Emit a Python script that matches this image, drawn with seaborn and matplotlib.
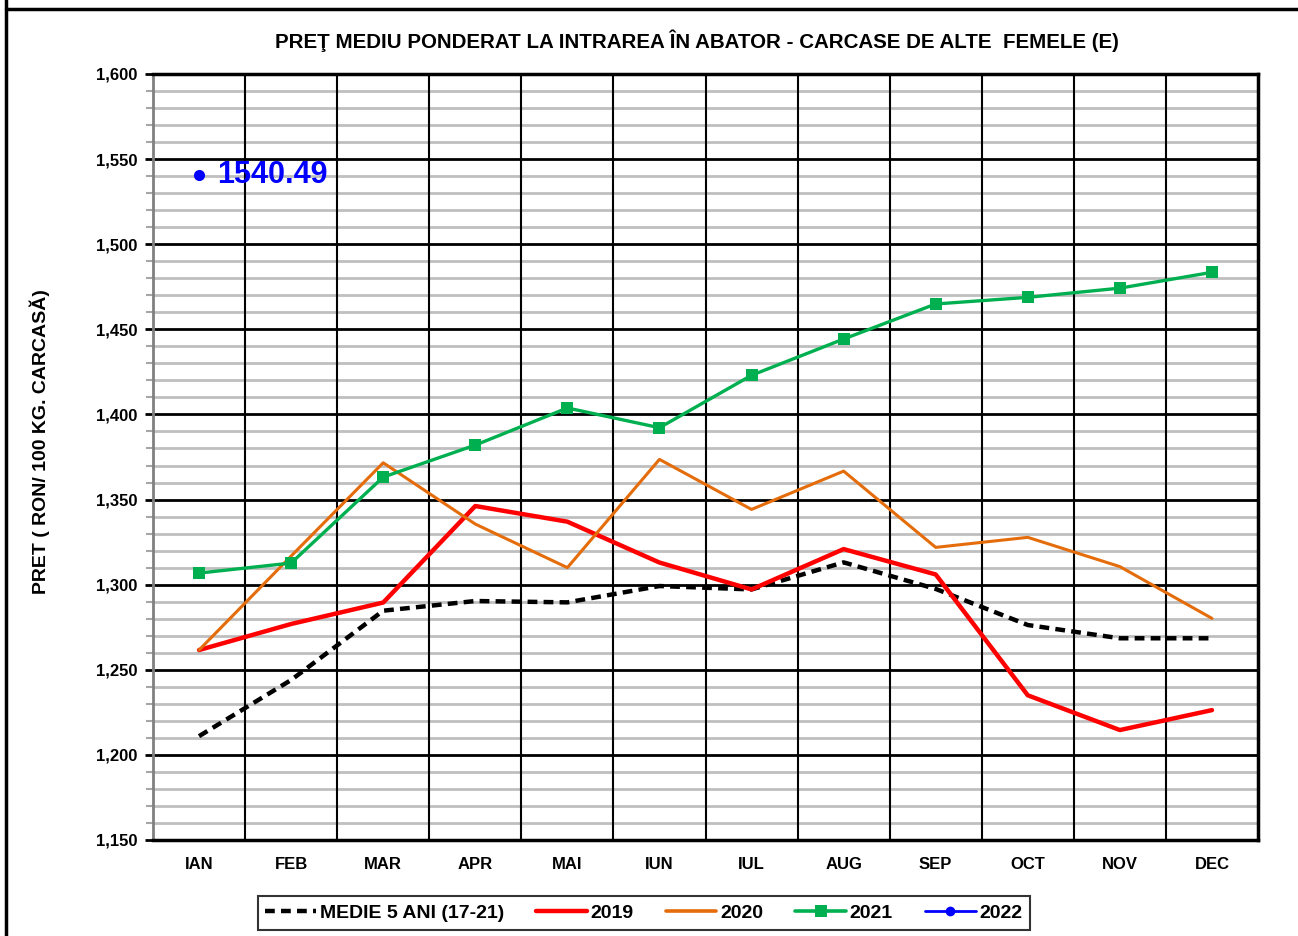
import matplotlib
matplotlib.use("Agg")
import matplotlib.pyplot as plt
import matplotlib.ticker as mticker
from matplotlib.lines import Line2D
import seaborn as sns
import pandas as pd

months = ["IAN", "FEB", "MAR", "APR", "MAI", "IUN", "IUL", "AUG", "SEP", "OCT", "NOV", "DEC"]
medie = [1211, 1244, 1284.7, 1290.4, 1289.6, 1299.2, 1297.2, 1313.1, 1297.5, 1276.3, 1268.5, 1268.5]
y2019 = [1261.6, 1276.9, 1289.5, 1346.2, 1337.0, 1313.0, 1297.2, 1320.9, 1306.0, 1235.0, 1214.6, 1226.3]
y2020 = [1261.6, 1316.8, 1371.6, 1335.6, 1310.0, 1373.6, 1344.2, 1366.7, 1321.9, 1327.8, 1310.6, 1280.2]
y2021 = [1306.8, 1312.7, 1363.2, 1382.0, 1403.8, 1392.2, 1423.0, 1444.3, 1464.9, 1468.8, 1474.2, 1483.5]
y2022 = [1540.49]

sns.set_theme(style="white")
plt.rcParams["font.family"] = ["Liberation Sans", "DejaVu Sans"]
plt.rcParams["font.weight"] = "bold"
plt.rcParams["text.color"] = "black"
plt.rcParams["axes.labelcolor"] = "black"
plt.rcParams["xtick.color"] = "black"
plt.rcParams["ytick.color"] = "black"

fig = plt.figure(figsize=(12.98, 9.36), dpi=100)
ax = fig.add_axes([153/1298, 1-840/936, (1258-153)/1298, (840-74)/936])

x = list(range(len(months)))

# grid
for v in range(1150, 1601, 10):
    if v % 50 == 0:
        ax.axhline(v, color="black", lw=2.0, zorder=1)
    else:
        ax.axhline(v, color="#BFBFBF", lw=2.0, zorder=0.5)
for b in range(len(months) - 1):
    ax.axvline(b + 0.5, color="black", lw=1.5, zorder=1)

sns.lineplot(x=x, y=medie, ax=ax, color="black", lw=3.2, linestyle=(0, (2.2, 1.4)), zorder=3)
sns.lineplot(x=x, y=y2019, ax=ax, color="#FF0000", lw=3.2, zorder=3)
sns.lineplot(x=x, y=y2020, ax=ax, color="#E46C0A", lw=2.2, zorder=3)
sns.lineplot(x=x, y=y2021, ax=ax, color="#00B050", lw=2.4, marker="s", markersize=8,
             markeredgewidth=0, zorder=4)
sns.lineplot(x=x[:len(y2022)], y=y2022, ax=ax, color="#0000FF", lw=2, marker="o",
             markersize=8, markeredgewidth=0, zorder=5)
ax.text(0.2, y2022[0], f"{y2022[0]:.2f}", color="#0000FF", fontsize=22, fontweight="bold",
        va="center", ha="left", zorder=6)

ax.set_xlim(-0.5, len(months) - 0.5)
ax.set_ylim(1150, 1600)
ax.set_xticks(x)
ax.set_xticklabels(months, fontsize=12, fontweight="bold", color="black")
ax.set_xticks([b + 0.5 for b in range(-1, len(months))], minor=True)
ax.tick_params(axis="x", which="major", length=0, pad=12)
ax.tick_params(axis="x", which="minor", length=5, width=2, color="black", direction="out")

ax.yaxis.set_major_locator(mticker.MultipleLocator(50))
ax.yaxis.set_minor_locator(mticker.MultipleLocator(10))
ax.yaxis.set_major_formatter(mticker.FuncFormatter(lambda v, p: f"{int(v):,}"))
ax.tick_params(axis="y", which="major", length=6, width=2, color="black", labelsize=12, pad=5,
               left=True, labelcolor="black")
ax.tick_params(axis="y", which="minor", length=5, width=1.5, color="#A6A6A6", left=True)
for lab in ax.get_yticklabels():
    lab.set_fontweight("bold")

for s in ["top", "right", "bottom"]:
    ax.spines[s].set_color("black")
    ax.spines[s].set_linewidth(2.5)
ax.spines["left"].set_color("#808080")
ax.spines["left"].set_linewidth(2)
ax.grid(False)

ax.set_ylabel("PRET ( RON/ 100 KG. CARCASĂ)", fontsize=14, fontweight="bold", color="black")
ax.yaxis.set_label_coords(-(153-50)/1105, (840-442)/766)

fig.text(697/1298, 1-41/936, "PREŢ MEDIU PONDERAT LA INTRAREA ÎN ABATOR - CARCASE DE ALTE  FEMELE (E)",
         ha="center", va="center", fontsize=14.8, fontweight="bold", color="black")

handles = [
    Line2D([], [], color="black", lw=3.2, linestyle=(0, (2.2, 1.4))),
    Line2D([], [], color="#FF0000", lw=3.2),
    Line2D([], [], color="#E46C0A", lw=2.6),
    Line2D([], [], color="#00B050", lw=2.6, marker="s", markersize=8, markeredgewidth=0),
    Line2D([], [], color="#0000FF", lw=2, marker="o", markersize=7, markeredgewidth=0),
]
labels = ["MEDIE 5 ANI (17-21)", "2019", "2020", "2021", "2022"]
leg = fig.legend(handles, labels, loc="center", bbox_to_anchor=(644/1298, 1-913/936), ncol=5,
                 frameon=True, fancybox=False, edgecolor="black", fontsize=14,
                 handlelength=2.6, handletextpad=0.2, columnspacing=1.65, borderpad=0.4,
                 labelcolor="black")
leg.get_frame().set_linewidth(1.5)
for t in leg.get_texts():
    t.set_fontweight("bold")

# outer frame (left & top edges visible)
fig.add_artist(Line2D([6/1298, 6/1298], [0, 1], transform=fig.transFigure, color="black", lw=2.5))
fig.add_artist(Line2D([6/1298, 1], [1-9/936, 1-9/936], transform=fig.transFigure, color="black", lw=2.5))

fig.savefig("out.png", dpi=100)
